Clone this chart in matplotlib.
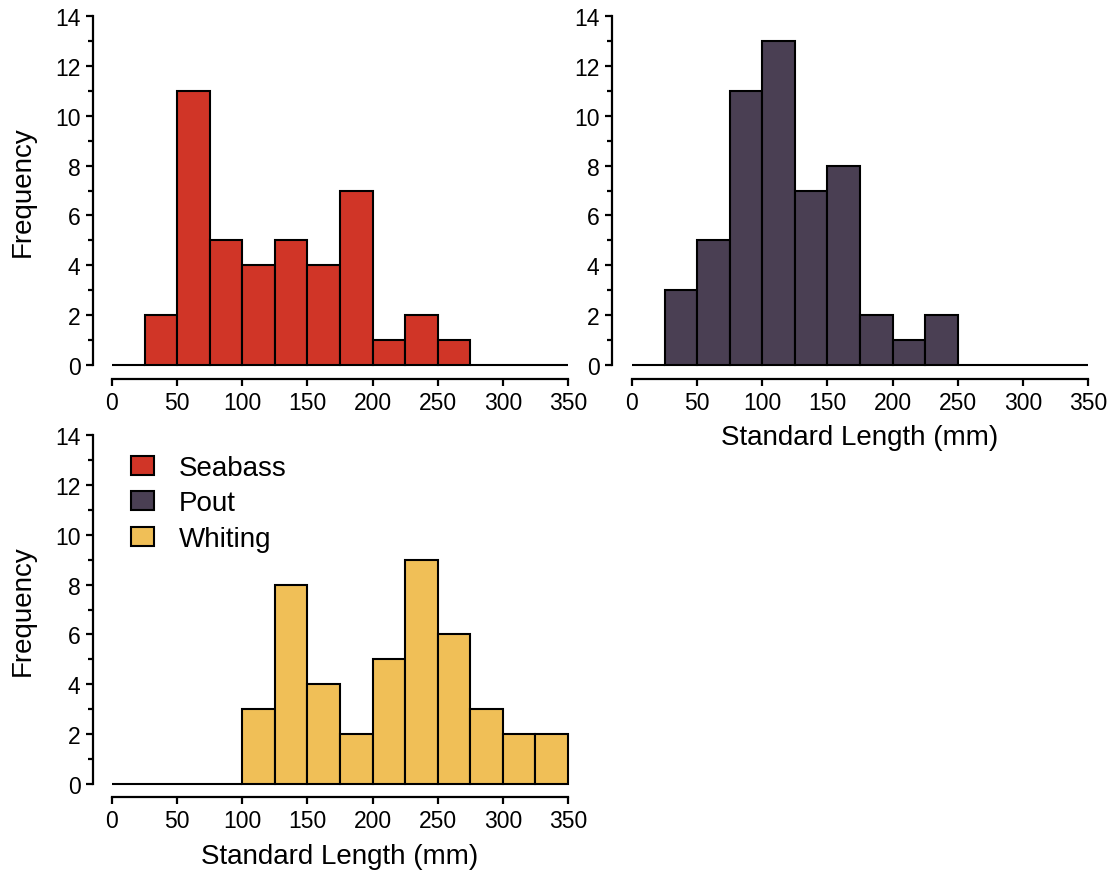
import numpy as np
import matplotlib
matplotlib.use('Agg')
import matplotlib.pyplot as plt
from matplotlib.patches import Patch

plt.rcParams['font.family'] = ['Liberation Sans', 'DejaVu Sans']

# bin edges (mm) and counts
bin_left = np.arange(0, 350, 25)
bin_width = 25

seabass = [0, 2, 11, 5, 4, 5, 4, 7, 1, 2, 1, 0, 0, 0]
pout = [0, 3, 5, 11, 13, 7, 8, 2, 1, 2, 0, 0, 0, 0]
whiting = [0, 0, 0, 0, 3, 8, 4, 2, 5, 9, 6, 3, 2, 2]

species = ['Seabass', 'Pout', 'Whiting']
fills = ['#D03527', '#4A3F53', '#F0BF57']

xticks = np.arange(0, 351, 50)
yticks = np.arange(0, 15, 2)

W, H = 1117, 879
fig = plt.figure(figsize=(W/100, H/100), dpi=100)


def px_axes(x0, x1, ytop, ybot):
    return fig.add_axes([x0/W, 1 - ybot/H, (x1 - x0)/W, (ybot - ytop)/H])


def style(ax, left_out, bottom_out):
    ax.set_xlim(0, 350)
    ax.set_ylim(0, 14)
    for s in ['top', 'right']:
        ax.spines[s].set_visible(False)
    ax.spines['left'].set_position(('outward', left_out*0.72))
    ax.spines['bottom'].set_position(('outward', bottom_out*0.72))
    ax.spines['left'].set_bounds(0, 14)
    ax.spines['bottom'].set_bounds(0, 350)
    for s in ['left', 'bottom']:
        ax.spines[s].set_linewidth(1.6)
    ax.set_xticks(xticks)
    ax.set_yticks(yticks)
    ax.set_yticks(np.arange(1, 14, 2), minor=True)
    ax.tick_params(axis='both', which='major', labelsize=16.5, width=1.6, length=5, pad=4)
    ax.tick_params(axis='y', which='minor', width=1.6, length=3.5)
    ax.patch.set_visible(False)


axes = [px_axes(112, 568, 17, 366), px_axes(632, 1088, 17, 366), px_axes(112, 568, 436, 785)]
counts = [seabass, pout, whiting]
spine_out = [(19, 14), (20, 14), (19, 13)]

for ax, c, col, (lo, bo) in zip(axes, counts, fills, spine_out):
    style(ax, lo, bo)
    ax.bar(bin_left, c, width=bin_width, align='edge', color=col,
           edgecolor='black', linewidth=1.5, clip_on=False)

axes[0].set_ylabel('Frequency', fontsize=20)
axes[0].yaxis.set_label_coords(-0.168, 0.5)
axes[2].set_ylabel('Frequency', fontsize=20)
axes[2].yaxis.set_label_coords(-0.168, 0.5)

axes[1].set_xlabel('Standard Length (mm)', fontsize=20)
axes[1].xaxis.set_label_coords(0.5, -0.17)
axes[2].set_xlabel('Standard Length (mm)', fontsize=20)
axes[2].xaxis.set_label_coords(0.5, -0.17)

handles = [Patch(facecolor=col, edgecolor='black', linewidth=1.5, label=s)
           for s, col in zip(species, fills)]
axes[2].legend(handles=handles, loc='upper left', bbox_to_anchor=(131/W, 1 - 456/H),
               bbox_transform=fig.transFigure, frameon=False, fontsize=20,
               borderpad=0, borderaxespad=0, handlelength=0.83, handleheight=0.68,
               handletextpad=0.9, labelspacing=0.34)

fig.savefig('out.png', dpi=100)
